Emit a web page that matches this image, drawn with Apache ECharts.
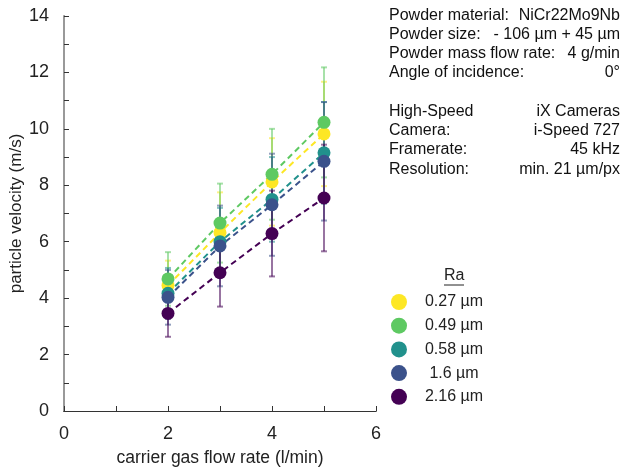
<!DOCTYPE html>
<html lang="en">
	<head>
		<meta charset="UTF-8" />
		<title>particle velocity</title>
		<style>
			html, body { margin: 0; padding: 0; background: #fff; }
			#chart { width: 625px; height: 467px; }
		</style>
	</head>
	<body>
		<div id="chart"></div>
		<script src="https://cdn.jsdelivr.net/npm/echarts@6/dist/echarts.min.js"></script>
		<script>
			// flow rate (l/min)
			const flowRates = [2, 3, 4, 5];
			const raNames = ["0.27 µm", "0.49 µm", "0.58 µm", "1.6 µm", "2.16 µm"];
			const raColors = ["#fde725", "#5ec962", "#21918c", "#3b528b", "#440154"];

			// mean particle velocity (m/s)
			const v027 = [4.45, 6.32, 8.12, 9.82];
			const v049 = [4.68, 6.66, 8.39, 10.23];
			const v058 = [4.17, 6.0, 7.5, 9.15];
			const v16 = [4.03, 5.85, 7.31, 8.85];
			const v216 = [3.46, 4.9, 6.29, 7.55];

			// standard deviation (m/s)
			const e027 = [0.88, 1.43, 1.55, 1.85];
			const e049 = [0.95, 1.4, 1.61, 1.95];
			const e058 = [0.9, 1.2, 1.5, 1.8];
			const e16 = [0.97, 1.43, 1.81, 2.1];
			const e216 = [0.83, 1.2, 1.52, 1.89];

			const infoRows = [
				["Powder material:", "NiCr22Mo9Nb"],
				["Powder size:", "- 106 µm + 45 µm"],
				["Powder mass flow rate:", "4 g/min"],
				["Angle of incidence:", "0°"],
				["High-Speed", "iX Cameras"],
				["Camera:", "i-Speed 727"],
				["Framerate:", "45 kHz"],
				["Resolution:", "min. 21 µm/px"],
			];
			const infoY = [16, 35, 54, 73, 112, 131, 150, 170];

			const values = [v027, v049, v058, v16, v216];
			const errors = [e027, e049, e058, e16, e216];
			const font = "'Liberation Sans', Arial, sans-serif";

			let chart = echarts.init(document.getElementById("chart"));

			let series = [];
			values.forEach(function (vals, i) {
				let col = raColors[i];
				series.push({
					name: raNames[i] + " err",
					type: "custom",
					z: 1,
					data: flowRates.map(function (x, k) {
						return [x, vals[k], errors[i][k]];
					}),
					encode: { x: 0, y: 1 },
					renderItem: function (params, api) {
						let x = api.value(0);
						let y = api.value(1);
						let e = api.value(2);
						let hi = api.coord([x, y + e]);
						let lo = api.coord([x, y - e]);
						let hw = 3;
						let st = { stroke: col, lineWidth: 2, opacity: 0.55 };
						return {
							type: "group",
							children: [
								{ type: "line", shape: { x1: hi[0], y1: hi[1], x2: lo[0], y2: lo[1] }, style: st },
								{ type: "line", shape: { x1: hi[0] - hw, y1: hi[1], x2: hi[0] + hw, y2: hi[1] }, style: st },
								{ type: "line", shape: { x1: lo[0] - hw, y1: lo[1], x2: lo[0] + hw, y2: lo[1] }, style: st },
							],
						};
					},
				});
			});
			values.forEach(function (vals, i) {
				series.push({
					name: raNames[i],
					type: "line",
					z: 3,
					data: flowRates.map(function (x, k) {
						return [x, vals[k]];
					}),
					symbol: "circle",
					symbolSize: 13,
					itemStyle: { color: raColors[i] },
					lineStyle: { color: raColors[i], width: 2, type: [6, 4] },
				});
			});

			let graphics = [
				{
					type: "text",
					left: 444,
					top: 268,
					style: { text: "Ra", font: "16px " + font, fill: "#222" },
				},
				{
					type: "line",
					shape: { x1: 444, y1: 285, x2: 464, y2: 285 },
					style: { stroke: "#222", lineWidth: 1 },
				},
			];
			infoRows.forEach(function (row, i) {
				graphics.push({
					type: "text",
					x: 389,
					y: infoY[i],
					style: { text: row[0], font: "16px " + font, fill: "#111", textVerticalAlign: "middle" },
				});
				graphics.push({
					type: "text",
					x: 620,
					y: infoY[i],
					style: { text: row[1], font: "16px " + font, fill: "#111", textAlign: "right", textVerticalAlign: "middle" },
				});
			});

			let axisLine = { lineStyle: { color: "#333", width: 1 } };
			let option = {
				animation: false,
				backgroundColor: "#fff",
				grid: { left: 64, right: 249, top: 16, bottom: 56, outerBoundsMode: "none", containLabel: false },
				legend: {
					data: raNames,
					orient: "vertical",
					left: 391,
					top: 294,
					icon: "circle",
					itemWidth: 16,
					itemHeight: 16,
					itemGap: 7.7,
					padding: 0,
					formatter: "{a|{name}}",
					textStyle: {
						color: "#222",
						fontFamily: font,
						fontSize: 16,
						rich: { a: { width: 84, align: "center", fontSize: 16, fontFamily: font } },
					},
				},
				xAxis: [
					{
						type: "value",
						min: 0,
						max: 6,
						interval: 2,
						name: "carrier gas flow rate (l/min)",
						nameLocation: "middle",
						nameGap: 38,
						nameTextStyle: { color: "#222", fontSize: 17.5, fontFamily: font },
						axisLine: axisLine,
						axisTick: { inside: true, length: 5, lineStyle: { color: "#333" } },
						minorTick: { show: true, splitNumber: 2, length: 5, lineStyle: { color: "#333" } },
						axisLabel: { color: "#222", fontSize: 18, fontFamily: font, margin: 14 },
						splitLine: { show: false },
					},
					{
						type: "value",
						position: "top",
						min: 0,
						max: 6,
						axisLine: axisLine,
						axisTick: { show: false },
						axisLabel: { show: false },
						splitLine: { show: false },
					},
				],
				yAxis: [
					{
						type: "value",
						min: 0,
						max: 14,
						interval: 2,
						name: "particle velocity (m/s)",
						nameLocation: "middle",
						nameGap: 33,
						nameTextStyle: { color: "#222", fontSize: 17, fontFamily: font },
						axisLine: { show: true, lineStyle: { color: "#333", width: 1 } },
						axisTick: { inside: true, length: 5, lineStyle: { color: "#333" } },
						minorTick: { show: true, splitNumber: 2, length: 5, lineStyle: { color: "#333" } },
						axisLabel: { color: "#222", fontSize: 18, fontFamily: font, margin: 15 },
						splitLine: { show: false },
					},
					{
						type: "value",
						position: "right",
						min: 0,
						max: 14,
						axisLine: { show: true, lineStyle: { color: "#999", width: 2 } },
						axisTick: { show: false },
						axisLabel: { show: false },
						splitLine: { show: false },
					},
				],
				series: series,
				graphic: graphics,
			};
			chart.setOption(option);
		</script>
	</body>
</html>
